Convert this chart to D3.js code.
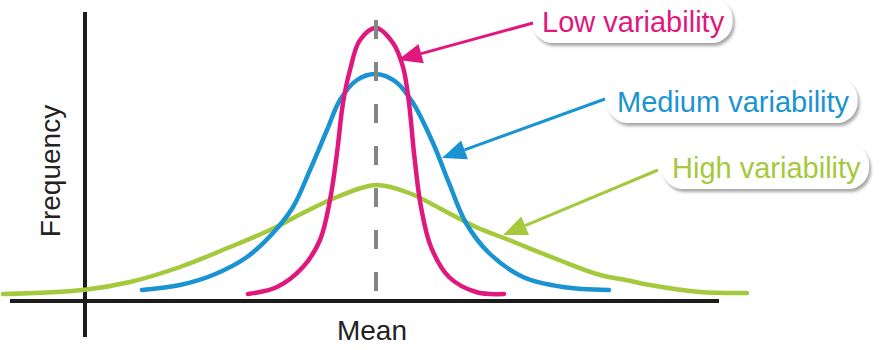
<!DOCTYPE html>
<html>
<head>
<meta charset="utf-8">
<script src="https://cdn.jsdelivr.net/npm/d3@7"></script>
<style>
  html, body { margin: 0; padding: 0; background: #fff; }
  svg { display: block; font-family: "Liberation Sans", Arial, sans-serif; }
</style>
</head>
<body>
<script>
// offsets from the mean, and frequency (height above baseline)
var lowX  = [-128, -99, -73, -56, -46, -39, -33, -26, -16, 0, 17, 27, 33, 38, 45, 55, 73, 100, 128];
var lowY  = [2, 9, 29, 56, 96, 143, 193, 226, 256, 268, 253, 229, 193, 143, 89, 49, 19, 4, 2];

var medX  = [-234, -196, -163, -129, -103, -83, -66, -49, -36, -19, 0, 20, 37, 57, 73, 90, 113, 147, 187, 233];
var medY  = [6, 11, 21, 39, 63, 89, 126, 166, 196, 216, 222, 214, 193, 153, 113, 73, 43, 19, 9, 6];

var highX = [-373, -293, -246, -196, -146, -106, -73, -39, 0, 33, 67, 100, 133, 183, 224, 250, 274, 324, 371];
var highY = [2, 6, 14, 29, 49, 66, 83, 99, 111, 103, 86, 69, 56, 36, 21, 16, 11, 4, 3];

var seriesNames  = ['High variability', 'Medium variability', 'Low variability'];
var seriesColors = ['#a4c93c', '#1a93d2', '#e0187e'];

document.addEventListener("DOMContentLoaded", function(event) {
    var width = 886,
        height = 350,
        svg = d3.select('body').append('svg').attr('width', width).attr('height', height),
        x = d3.scaleLinear().domain([-376, 510]).range([0, 886]),
        y = d3.scaleLinear().domain([0, 296]).range([296, 0]),
        line = d3.line().x(function(d) { return x(d[0]); }).y(function(d) { return y(d[1]); })
                 .curve(d3.curveCatmullRom.alpha(0.5)),
        series = [d3.zip(highX, highY), d3.zip(medX, medY), d3.zip(lowX, lowY)];

    var defs = svg.append('defs');
    defs.append('filter').attr('id', 'shadow')
        .attr('x', '-20%').attr('y', '-30%').attr('width', '140%').attr('height', '170%')
        .append('feDropShadow')
        .attr('dx', 2).attr('dy', 3).attr('stdDeviation', 1.5)
        .attr('flood-color', '#8a8a8a').attr('flood-opacity', 0.75);

    // axes
    svg.append('line')
        .attr('x1', x(-291)).attr('x2', x(-291))
        .attr('y1', 12).attr('y2', 337)
        .attr('stroke', '#1c1c1c').attr('stroke-width', 4);
    svg.append('line')
        .attr('x1', 10).attr('x2', 719)
        .attr('y1', y(-5)).attr('y2', y(-5))
        .attr('stroke', '#1c1c1c').attr('stroke-width', 4);

    // curves
    svg.selectAll('path.curve').data(series).enter().append('path')
        .attr('class', 'curve')
        .attr('d', line)
        .attr('fill', 'none')
        .attr('stroke', function(d, i) { return seriesColors[i]; })
        .attr('stroke-width', 4.5)
        .attr('stroke-linecap', 'round');

    // mean line
    svg.append('line')
        .attr('x1', x(0)).attr('x2', x(0))
        .attr('y1', y(276)).attr('y2', y(-2))
        .attr('stroke', '#858585').attr('stroke-width', 4)
        .attr('stroke-dasharray', '19 23');

    // axis titles
    svg.append('text')
        .attr('x', x(-4)).attr('y', 340)
        .attr('text-anchor', 'middle')
        .attr('font-size', 28).attr('fill', '#222')
        .text('Mean');
    svg.append('text')
        .attr('transform', 'translate(60,171) rotate(-90)')
        .attr('text-anchor', 'middle')
        .attr('font-size', 28).attr('fill', '#222')
        .text('Frequency');

    // callouts: label position, arrow start and tip (in data units)
    var notes = [
        {i: 2, tx: 542, ty: 32,  from: [157, 273], to: [22, 236]},
        {i: 1, tx: 617, ty: 112, from: [229, 197], to: [66, 138]},
        {i: 0, tx: 672, ty: 178, from: [282, 126], to: [127, 61]}
    ];

    notes.forEach(function(n) {
        var c = seriesColors[n.i],
            g = svg.append('g'),
            box = g.append('rect'),
            t = g.append('text')
                .attr('x', n.tx).attr('y', n.ty)
                .attr('font-size', 29).attr('fill', c)
                .text(seriesNames[n.i]),
            bb = t.node().getBBox();

        box.attr('x', bb.x - 10).attr('y', n.ty - 34)
            .attr('width', bb.width + 18).attr('height', 45)
            .attr('rx', 21)
            .attr('fill', '#fff')
            .attr('filter', 'url(#shadow)');

        var x1 = x(n.from[0]), y1 = y(n.from[1]),
            x2 = x(n.to[0]), y2 = y(n.to[1]),
            a = Math.atan2(y2 - y1, x2 - x1),
            len = 24, hw = 10,
            bx = x2 - len * Math.cos(a), by = y2 - len * Math.sin(a);

        svg.append('line')
            .attr('x1', x1).attr('y1', y1).attr('x2', bx).attr('y2', by)
            .attr('stroke', c).attr('stroke-width', 3);
        svg.append('path')
            .attr('d', 'M' + x2 + ',' + y2 +
                'L' + (bx + hw * Math.sin(a)) + ',' + (by - hw * Math.cos(a)) +
                'L' + (bx - hw * Math.sin(a)) + ',' + (by + hw * Math.cos(a)) + 'Z')
            .attr('fill', c);
    });
});
</script>
</body>
</html>
